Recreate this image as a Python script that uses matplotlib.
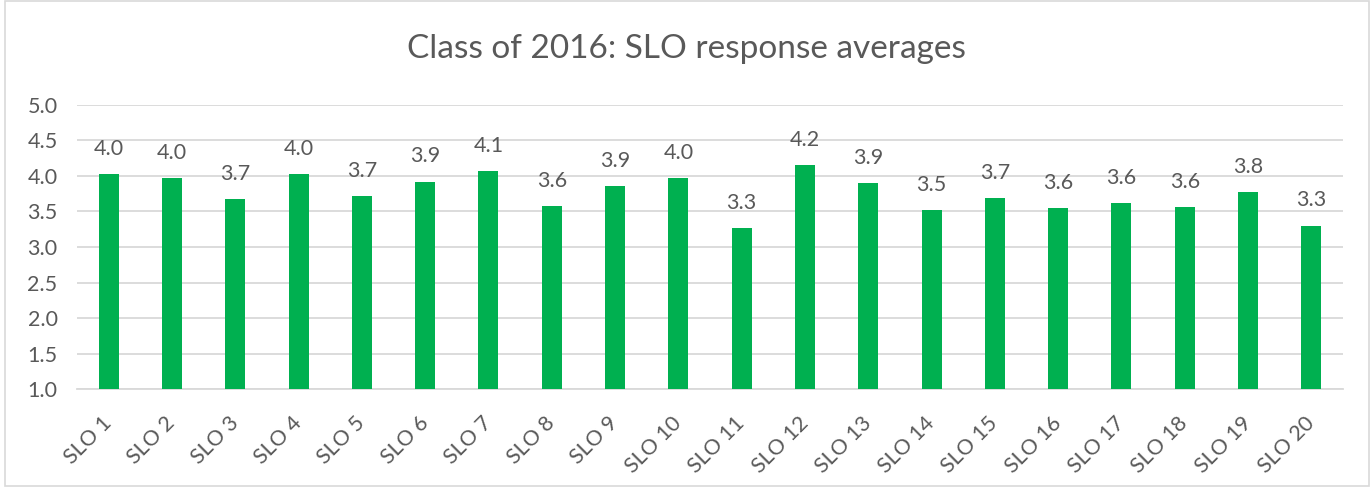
import numpy as np
import matplotlib.pyplot as plt
from matplotlib.patches import Rectangle

categories = [f"SLO {i}" for i in range(1, 21)]
averages = [4.02, 3.97, 3.67, 4.02, 3.72, 3.92, 4.07, 3.57, 3.86, 3.97,
            3.27, 4.15, 3.90, 3.52, 3.69, 3.55, 3.62, 3.56, 3.77, 3.30]
labels = ["4.0", "4.0", "3.7", "4.0", "3.7", "3.9", "4.1", "3.6", "3.9", "4.0",
          "3.3", "4.2", "3.9", "3.5", "3.7", "3.6", "3.6", "3.6", "3.8", "3.3"]

plt.rcParams['font.family'] = ['Lato', 'DejaVu Sans']

grey = "#595959"
fig = plt.figure(figsize=(13.72, 4.87), dpi=100)
ax = fig.add_axes([0.0561, 0.2006, 0.9228, 0.5844])

x = np.arange(len(categories))
bars = ax.bar(x, averages, width=0.316, bottom=0, color="#00b050", zorder=3)

for xi, v, lab in zip(x, averages, labels):
    ax.annotate(lab, (xi, v), xytext=(0, 11), textcoords="offset points",
                ha="center", va="bottom", fontsize=15.5, color=grey)

ax.set_xlim(-0.5, len(categories) - 0.5)
ax.set_ylim(1.0, 5.0)
ax.set_yticks(np.arange(1.0, 5.01, 0.5))
ax.set_yticklabels([f"{t:.1f}" for t in np.arange(1.0, 5.01, 0.5)])
ax.set_xticks(x)
ax.set_xticklabels(categories, rotation=45, ha="right", va="center",
                   rotation_mode="anchor")

ax.grid(axis="y", color="#d9d9d9", linewidth=1.3, zorder=0)
for s in ["top", "right", "left"]:
    ax.spines[s].set_visible(False)
ax.spines["bottom"].set_color("#d9d9d9")
ax.spines["bottom"].set_linewidth(1.3)
ax.tick_params(axis="both", length=0, labelsize=15.5, colors=grey)
ax.tick_params(axis="x", pad=22)
ax.tick_params(axis="y", pad=14)

fig.text(0.5, 0.90, "Class of 2016: SLO response averages", ha="center",
         va="center", fontsize=24, color=grey)

fig.patches.append(Rectangle((0.004, 0.002), 0.994, 0.996, transform=fig.transFigure,
                             fill=False, edgecolor="#d9d9d9", linewidth=1.2))

fig.savefig("out.png", dpi=100)
